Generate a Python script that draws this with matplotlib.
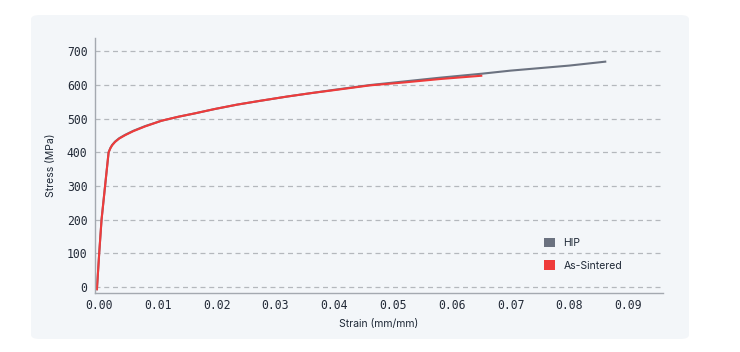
import matplotlib
matplotlib.use("Agg")
import matplotlib.pyplot as plt
from matplotlib.patches import FancyBboxPatch, Patch

# strain (mm/mm) / stress (MPa)
hip_strain = [-0.0004, 0.0, 0.0004, 0.001, 0.0016, 0.0019, 0.0022, 0.0027, 0.0034,
              0.0044, 0.0058, 0.0078, 0.0106, 0.0135, 0.0163, 0.0197, 0.0235, 0.0273,
              0.032, 0.036, 0.040, 0.046, 0.052, 0.058, 0.0652, 0.070, 0.080, 0.0863]
hip_stress = [-10, 100, 200, 300, 400, 413, 422, 432, 442,
              452, 464, 478, 494, 506, 516, 529, 542, 553,
              566, 576, 586, 600, 611, 622, 634, 643, 658, 670]

sint_strain = [-0.0004, 0.0, 0.0004, 0.001, 0.0016, 0.0019, 0.0022, 0.0027, 0.0034,
               0.0044, 0.0058, 0.0078, 0.0106, 0.0135, 0.0163, 0.0197, 0.0235, 0.0273,
               0.032, 0.036, 0.040, 0.046, 0.052, 0.058, 0.0652]
sint_stress = [-10, 100, 200, 300, 400, 412, 421, 431, 441,
               451, 463, 477, 494, 506, 516, 529, 542, 553,
               566, 576, 585, 599, 608, 618, 628]

series = [("HIP", hip_strain, hip_stress, "#6b7280"),
          ("As-Sintered", sint_strain, sint_stress, "#ef3b3b")]

x_ticks = [0.00, 0.01, 0.02, 0.03, 0.04, 0.05, 0.06, 0.07, 0.08, 0.09]
y_ticks = [0, 100, 200, 300, 400, 500, 600, 700]

W, H = 740, 352
fig = plt.figure(figsize=(W / 100, H / 100), dpi=100)
fig.patch.set_facecolor("white")

# rounded card behind the chart
card = FancyBboxPatch((31 / W, (H - 339) / H), (689 - 31) / W, (339 - 15) / H,
                      boxstyle="round,pad=0,rounding_size=0.012",
                      transform=fig.transFigure, facecolor="#f3f6f9",
                      edgecolor="none", zorder=-10)
fig.patches.append(card)

ax = fig.add_axes([94.5 / W, (H - 293.3) / H, (662.7 - 94.5) / W, (293.3 - 38) / H])
ax.set_facecolor("none")
ax.set_zorder(1)

for name, xs, ys, col in series:
    ax.plot(xs, ys, color=col, lw=1.5, label=name, solid_capstyle="butt",
            solid_joinstyle="round")

ax.set_xlim(-0.0008, 0.0959)
ax.set_ylim(-19, 740)
ax.set_xticks(x_ticks)
ax.set_yticks(y_ticks)
ax.set_xticklabels([f"{v:.2f}" for v in x_ticks])
ax.set_yticklabels([str(v) for v in y_ticks])

ax.grid(axis="y", color="#b4b8bd", linestyle=(0, (4, 3)), lw=0.9)
ax.set_axisbelow(True)
for s in ["top", "right"]:
    ax.spines[s].set_visible(False)
for s in ["left", "bottom"]:
    ax.spines[s].set_color("#a4a9b0")
    ax.spines[s].set_linewidth(1.0)

ax.tick_params(length=0, colors="#232b38")
ax.tick_params(axis="y", pad=5)
ax.tick_params(axis="x", pad=4)
for lab in ax.get_xticklabels() + ax.get_yticklabels():
    lab.set_fontfamily("DejaVu Sans Mono")
    lab.set_fontsize(8.3)

ax.set_xlabel("Strain (mm/mm)", fontsize=7.5, family="Inter", color="#1f2937", labelpad=5)
ax.set_ylabel("Stress (MPa)", fontsize=7.5, family="Inter", color="#1f2937", labelpad=8)

handles = [Patch(facecolor=c, edgecolor="none", label=n) for n, _, _, c in series]
leg = ax.legend(handles=handles, loc="upper left", bbox_to_anchor=(0.775, 0.255),
                frameon=False, handlelength=1.05, handleheight=1.05,
                handletextpad=0.8, labelspacing=1.2,
                prop={"family": "Inter", "size": 7.5})
for t in leg.get_texts():
    t.set_color("#1f2937")

fig.savefig("out.png", dpi=100)
